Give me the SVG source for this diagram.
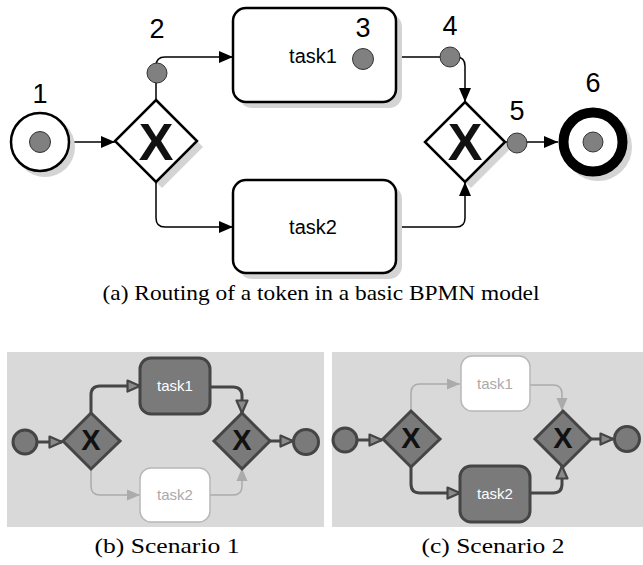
<svg xmlns="http://www.w3.org/2000/svg" width="643" height="565" viewBox="0 0 643 565">
<defs>
<style>
.sh{fill:#d4d4d4}
.ev{fill:#fff;stroke:#000;stroke-width:2.5}
.end{fill:#fff;stroke:#000;stroke-width:10}
.tok{fill:#808080;stroke:#333;stroke-width:1}
.gw{fill:#fff;stroke:#000;stroke-width:2.5}
.task{fill:#fff;stroke:#000;stroke-width:2.5}
.flow{fill:none;stroke:#000;stroke-width:1.5}
.num{font-family:"Liberation Sans",Arial,sans-serif;font-size:27px;text-anchor:middle;fill:#000}
.lbl{font-family:"Liberation Sans",Arial,sans-serif;font-size:20px;text-anchor:middle;fill:#000}
.x{font-family:"Liberation Sans",Arial,sans-serif;font-weight:bold;text-anchor:middle;fill:#111}
.cap{font-family:"Liberation Serif","DejaVu Serif",serif;font-size:21px;text-anchor:middle;fill:#000}
.bg{fill:#d9d9d9}
.dk{fill:#7a7a7a;stroke:#454545;stroke-width:3}
.lt{fill:#fff;stroke:#b8b8b8;stroke-width:1.5}
.dflow{fill:none;stroke:#454545;stroke-width:3}
.lflow{fill:none;stroke:#ababab;stroke-width:1.5}
.stw{font-family:"Liberation Sans",Arial,sans-serif;font-size:15px;text-anchor:middle;fill:#fff}
.stl{font-family:"Liberation Sans",Arial,sans-serif;font-size:15px;text-anchor:middle;fill:#aaa}
</style>
<marker id="ah" markerUnits="userSpaceOnUse" markerWidth="15" markerHeight="13" refX="14" refY="6" orient="auto" viewBox="0 0 15 12"><path d="M0,0 L14,6 L0,12 z" fill="#000"/></marker>
<marker id="ahd" markerUnits="userSpaceOnUse" markerWidth="16" markerHeight="14" refX="14" refY="7" orient="auto" viewBox="0 0 16 14"><path d="M1.5,1.5 L14,7 L1.5,12.5 z" fill="#8a8a8a" stroke="#454545" stroke-width="2.2" stroke-linejoin="round"/></marker>
<marker id="ahl" markerUnits="userSpaceOnUse" markerWidth="14" markerHeight="12" refX="13" refY="6" orient="auto" viewBox="0 0 14 12"><path d="M0,0.5 L13,6 L0,11.5 z" fill="#ababab"/></marker>
</defs>
<rect width="643" height="565" fill="#fff"/>

<!-- (a) main diagram -->
<g id="connectors-a">
<path class="flow" d="M70,142 L115,142" marker-end="url(#ah)"/>
<path class="flow" d="M156,100 L156,66 Q156,57 165,57 L233,57" marker-end="url(#ah)"/>
<path class="flow" d="M156,182 L156,218 Q156,227 165,227 L233,227" marker-end="url(#ah)"/>
<path class="flow" d="M396,57 L456,57 Q465,57 465,66 L465,102" marker-end="url(#ah)"/>
<path class="flow" d="M396,227 L456,227 Q465,227 465,218 L465,182" marker-end="url(#ah)"/>
<path class="flow" d="M505,142 L558,142" marker-end="url(#ah)"/>
</g>
<g id="start">
<circle class="sh" cx="45" cy="147" r="30"/>
<circle class="ev" cx="40" cy="142" r="29"/>
<circle class="tok" cx="40" cy="142" r="10.5"/>
<text class="num" x="40" y="103">1</text>
</g>
<g id="gateway1">
<polygon class="sh" points="162,106 203,147 162,188 121,147"/>
<polygon class="gw" points="156,100 197,141 156,182 115,141"/>
<text class="x" x="156" y="160" font-size="52">X</text>
</g>
<g id="token2">
<circle class="tok" cx="157" cy="73" r="10"/>
<text class="num" x="157" y="38">2</text>
</g>
<g id="task1">
<rect class="sh" x="239" y="14" width="163" height="94" rx="13"/>
<rect class="task" x="233" y="8" width="163" height="94" rx="13"/>
<text class="lbl" x="313" y="63">task1</text>
<circle class="tok" cx="363" cy="59" r="10.5"/>
<text class="num" x="363" y="37">3</text>
</g>
<g id="task2">
<rect class="sh" x="239" y="186" width="163" height="93" rx="13"/>
<rect class="task" x="233" y="180" width="163" height="93" rx="13"/>
<text class="lbl" x="313" y="234">task2</text>
</g>
<g id="token4">
<circle class="tok" cx="450" cy="57" r="10"/>
<text class="num" x="450" y="35">4</text>
</g>
<g id="gateway2">
<polygon class="sh" points="471,108 511,148 471,188 431,148"/>
<polygon class="gw" points="465,102 505,142 465,182 425,142"/>
<text class="x" x="465" y="160" font-size="52">X</text>
</g>
<g id="token5">
<circle class="tok" cx="517" cy="143" r="10"/>
<text class="num" x="517" y="120">5</text>
</g>
<g id="end">
<circle class="sh" cx="598" cy="147" r="34"/>
<circle class="end" cx="593" cy="142" r="29.5"/>
<circle class="tok" cx="593" cy="142" r="10"/>
<text class="num" x="593" y="92">6</text>
</g>
<text class="cap" x="321" y="300" textLength="437" lengthAdjust="spacingAndGlyphs">(a) Routing of a token in a basic BPMN model</text>

<!-- (b) Scenario 1 -->
<rect class="bg" x="7" y="352" width="317" height="175"/>
<g id="connectors-b">
<path class="dflow" d="M37,442 L62,442" marker-end="url(#ahd)"/>
<path class="dflow" d="M91,413 L91,395 Q91,386 100,386 L140,386" marker-end="url(#ahd)"/>
<path class="dflow" d="M210,387 L233,387 Q242,387 242,396 L242,413" marker-end="url(#ahd)"/>
<path class="dflow" d="M270,441 L293,441" marker-end="url(#ahd)"/>
<path class="lflow" d="M91,468 L91,486 Q91,495 100,495 L140,495" marker-end="url(#ahl)"/>
<path class="lflow" d="M210,495 L233,495 Q242,495 242,486 L242,468" marker-end="url(#ahl)"/>
</g>
<g id="b-start"><circle class="dk" cx="25" cy="442" r="12"/></g>
<g id="b-gateway1">
<polygon class="dk" points="91,413 120,441 91,469 63,441"/>
<text class="x" x="91" y="450" font-size="29">X</text>
</g>
<g id="b-task1">
<rect class="dk" x="140" y="358" width="70" height="56" rx="11"/>
<text class="stw" x="175" y="391">task1</text>
</g>
<g id="b-task2">
<rect class="lt" x="140" y="468" width="70" height="54" rx="11"/>
<text class="stl" x="175" y="500">task2</text>
</g>
<g id="b-gateway2">
<polygon class="dk" points="242,413 270,441 242,469 214,441"/>
<text class="x" x="242" y="450" font-size="29">X</text>
</g>
<g id="b-end"><circle class="dk" cx="306" cy="442" r="12.5"/></g>
<text class="cap" x="167" y="553" font-size="22" textLength="145" lengthAdjust="spacingAndGlyphs">(b) Scenario 1</text>

<!-- (c) Scenario 2 -->
<rect class="bg" x="332" y="352" width="311" height="175"/>
<g transform="translate(320,-2)">
<g id="connectors-c">
<path class="dflow" d="M37,442 L62,442" marker-end="url(#ahd)"/>
<path class="lflow" d="M91,413 L91,395 Q91,386 100,386 L140,386" marker-end="url(#ahl)"/>
<path class="lflow" d="M210,387 L233,387 Q242,387 242,396 L242,413" marker-end="url(#ahl)"/>
<path class="dflow" d="M270,441 L293,441" marker-end="url(#ahd)"/>
<path class="dflow" d="M91,468 L91,486 Q91,495 100,495 L140,495" marker-end="url(#ahd)"/>
<path class="dflow" d="M210,495 L233,495 Q242,495 242,486 L242,468" marker-end="url(#ahd)"/>
</g>
<g id="c-start"><circle class="dk" cx="25" cy="442" r="12"/></g>
<g id="c-gateway1">
<polygon class="dk" points="91,413 120,441 91,469 63,441"/>
<text class="x" x="91" y="450" font-size="29">X</text>
</g>
<g id="c-task1">
<rect class="lt" x="141" y="358" width="69" height="55" rx="11"/>
<text class="stl" x="175" y="391">task1</text>
</g>
<g id="c-task2">
<rect class="dk" x="140" y="468" width="70" height="56" rx="11"/>
<text class="stw" x="175" y="501">task2</text>
</g>
<g id="c-gateway2">
<polygon class="dk" points="243,413 271,441 243,469 215,441"/>
<text class="x" x="243" y="450" font-size="29">X</text>
</g>
<g id="c-end"><circle class="dk" cx="307" cy="441" r="12.5"/></g>
</g>
<text class="cap" x="493" y="553" font-size="22" textLength="143" lengthAdjust="spacingAndGlyphs">(c) Scenario 2</text>
</svg>
